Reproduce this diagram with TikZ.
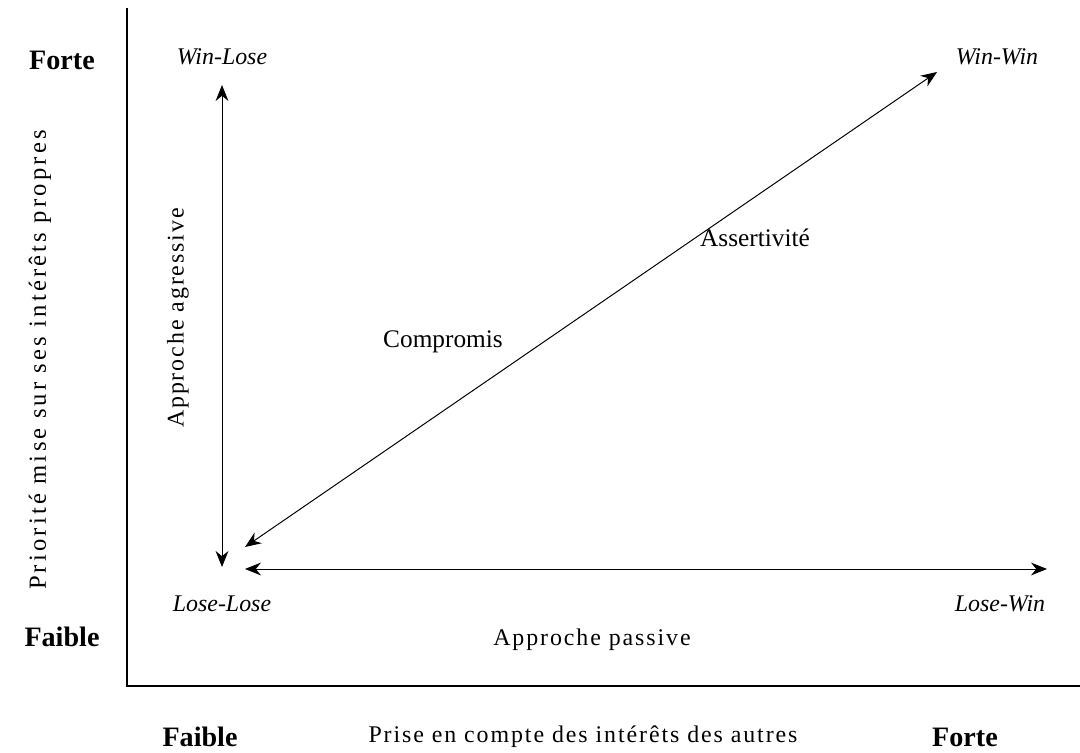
\documentclass[tikz,border=0pt]{standalone}
\usepackage{fontspec}
\setmainfont{Liberation Serif}
\usetikzlibrary{arrows.meta}

\begin{document}
\begin{tikzpicture}[x=0.025cm, y=-0.025cm,
    eixo/.style={line width=1.5pt},
    seta/.style={{Stealth[length=4mm,width=3.2mm]}-{Stealth[length=4mm,width=3.2mm]}, line width=0.7pt},
    grau/.style={font=\fontsize{20}{24}\selectfont\bfseries, inner sep=0pt},
    canto/.style={font=\fontsize{17}{20}\selectfont\itshape, inner sep=0pt},
    rotulo/.style={font=\fontsize{18}{21}\selectfont, inner sep=0pt},
    titulo/.style={font=\fontsize{17}{20}\selectfont\addfontfeature{LetterSpace=8}, inner sep=0pt},
    tituloY/.style={font=\fontsize{17.5}{20}\selectfont\addfontfeature{LetterSpace=13}, inner sep=0pt}]
  \useasboundingbox (0,0) rectangle (1080,753);

  % Eixos
  \draw[eixo] (127,8) -- (127,686) -- (1080,686);
  \node[grau] (forteY) at (62,60) {Forte};
  \node[grau] (faibleY) at (62,637) {Faible};
  \node[grau] (faibleX) at (200,737) {Faible};
  \node[grau] (forteX) at (965,737) {Forte};
  \node[titulo] (eixoX) at (583,737) {Prise en compte des intérêts des autres};
  \node[tituloY, rotate=90] (eixoY) at (40,360) {Priorité mise sur ses intérêts propres};

  % Cantos
  \node[canto] (winlose) at (222,57) {Win-Lose};
  \node[canto] (winwin) at (997,57) {Win-Win};
  \node[canto] (loselose) at (222,604) {Lose-Lose};
  \node[canto] (losewin) at (1000,604) {Lose-Win};

  % Setas
  \coordinate (agrA) at (222,85);
  \coordinate (agrB) at (222,567);
  \coordinate (pasA) at (245,569);
  \coordinate (pasB) at (1047,569);
  \coordinate (diaA) at (245,547);
  \coordinate (diaB) at (937,72);
  \draw[seta] (agrA) -- (agrB);
  \draw[seta] (pasA) -- (pasB);
  \draw[seta] (diaA) -- (diaB);

  \node[titulo, rotate=90] (agressive) at (178,318) {Approche agressive};
  \node[titulo] (passive) at (592,640) {Approche passive};
  \node[rotulo] (compromis) at (443,342) {Compromis};
  \node[rotulo] (assert) at (755,238) {Assertivité};
\end{tikzpicture}
\end{document}
